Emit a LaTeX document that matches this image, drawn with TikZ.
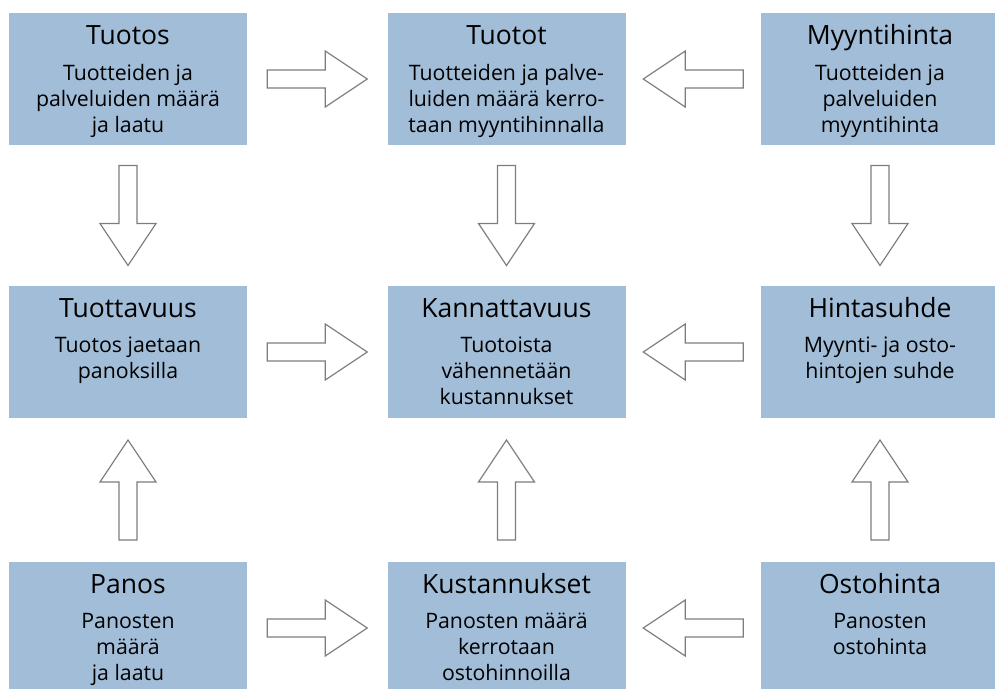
\documentclass[tikz,border=0pt]{standalone}
\usepackage{fontspec}
\setmainfont{Open Sans}
\usetikzlibrary{calc}
\definecolor{boxblue}{RGB}{162,189,215}
\definecolor{arrgray}{RGB}{125,125,125}

\begin{document}
\begin{tikzpicture}[x=1pt, y=-1pt,
  box/.style={fill=boxblue, minimum width=238pt, minimum height=132pt, inner sep=0pt},
  title/.style={anchor=base, inner sep=0pt, font=\fontsize{26.5}{30}\selectfont},
  body/.style={anchor=north, inner sep=0pt, align=center, font=\fontsize{21.3}{26}\selectfont},
  arr/.style={draw=arrgray, line width=1.2pt, fill=white, line join=miter}]
\def\A{128}
\def\B{506.5}
\def\C{880}

\useasboundingbox (0,0) rectangle (995,688);
\clip (0,0) rectangle (995,688);

\node[box] (tuotos) at (\A,79) {};
\node[box] (tuotot) at (\B,79) {};
\node[box] (myynti) at (\C,79) {};
\node[box] (tuottavuus) at (\A,352) {};
\node[box] (kannatt) at (\B,352) {};
\node[box] (hintasuhde) at (\C,352) {};
\node[box] (panos) at (\A,628) {};
\node[box] (kustann) at (\B,628) {};
\node[box] (ostohinta) at (\C,628) {};

% otsikot
\node[title] at ([yshift=-32pt]tuotos.north) {Tuotos};
\node[title] at ([yshift=-32pt]tuotot.north) {Tuotot};
\node[title] at ([yshift=-32pt]myynti.north) {Myyntihinta};
\node[title] at ([yshift=-32pt]tuottavuus.north) {Tuottavuus};
\node[title] at ([yshift=-32pt]kannatt.north) {Kannattavuus};
\node[title] at ([yshift=-32pt]hintasuhde.north) {Hintasuhde};
\node[title] at ([yshift=-32pt]panos.north) {Panos};
\node[title] at ([yshift=-32pt]kustann.north) {Kustannukset};
\node[title] at ([yshift=-32pt]ostohinta.north) {Ostohinta};

% selitteet
\node[body] at ([yshift=-51pt]tuotos.north) {Tuotteiden ja\\palveluiden määrä\\ja laatu};
\node[body] at ([yshift=-51pt]tuotot.north) {Tuotteiden ja palve-\\luiden määrä kerro-\\taan myyntihinnalla};
\node[body] at ([yshift=-51pt]myynti.north) {Tuotteiden ja\\palveluiden\\myyntihinta};
\node[body] at ([yshift=-51pt]tuottavuus.north) {Tuotos jaetaan\\panoksilla};
\node[body] at ([yshift=-51pt]kannatt.north) {Tuotoista\\vähennetään\\kustannukset};
\node[body] at ([yshift=-51pt]hintasuhde.north) {Myynti- ja osto-\\hintojen suhde};
\node[body] at ([yshift=-51pt]panos.north) {Panosten\\määrä\\ja laatu};
\node[body] at ([yshift=-51pt]kustann.north) {Panosten määrä\\kerrotaan\\ostohinnoilla};
\node[body] at ([yshift=-51pt]ostohinta.north) {Panosten\\ostohinta};

% nuolet
\foreach \a/\b in {tuotos.east/tuotot.west, myynti.west/tuotot.east,
    tuottavuus.east/kannatt.west, hintasuhde.west/kannatt.east,
    panos.east/kustann.west, ostohinta.west/kustann.east,
    tuotos.south/tuottavuus.north, tuotot.south/kannatt.north,
    myynti.south/hintasuhde.north, panos.north/tuottavuus.south,
    kustann.north/kannatt.south, ostohinta.north/hintasuhde.south} {
  \coordinate (m) at ($(\a)!.5!(\b)$);
  \coordinate (t) at ($(m)!-50pt!(\b)$);
  \coordinate (h) at ($(m)!8pt!(\b)$);
  \draw[arr] (t) -- ($(t)!9pt!90:(\b)$) -- ($(h)!9pt!90:(\b)$)
    -- ($(h)!28pt!90:(\b)$) -- ($(m)!50pt!(\b)$)
    -- ($(h)!28pt!-90:(\b)$) -- ($(h)!9pt!-90:(\b)$)
    -- ($(t)!9pt!-90:(\b)$) -- cycle;
}
\end{tikzpicture}
\end{document}
